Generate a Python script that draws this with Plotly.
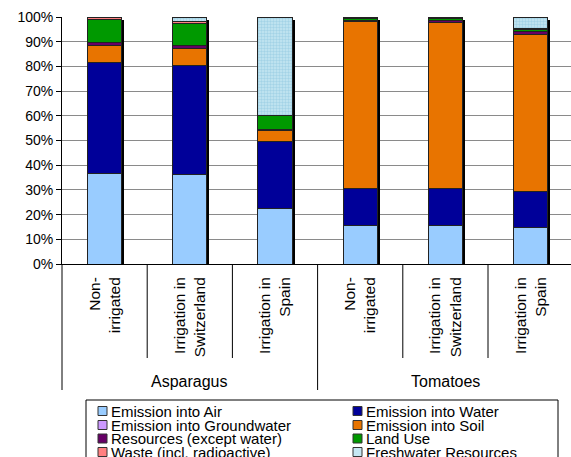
import plotly.graph_objects as go

# ---------------- data ----------------
groups = ["Asparagus", "Tomatoes"]
sub_labels = ["Non-<br>irrigated", "Irrigation in<br>Switzerland", "Irrigation in<br>Spain",
              "Non-<br>irrigated", "Irrigation in<br>Switzerland", "Irrigation in<br>Spain"]
group_of = [0, 0, 0, 1, 1, 1]
y_ticks = [0, 10, 20, 30, 40, 50, 60, 70, 80, 90, 100]
y_tick_labels = ["0%", "10%", "20%", "30%", "40%", "50%", "60%", "70%", "80%", "90%", "100%"]

series_names = ["Emission into Air", "Emission into Water", "Emission into Groundwater",
                "Emission into Soil", "Resources (except water)", "Land Use",
                "Waste (incl. radioactive)", "Freshwater Resources"]
air = [36.8, 36.4, 22.4, 15.7, 15.7, 14.9]
water = [44.7, 43.8, 27.3, 15.0, 14.8, 14.4]
groundwater = [0, 0, 0, 0, 0, 0]
soil = [7.1, 7.0, 4.2, 67.3, 67.1, 63.8]
resources = [1.2, 1.1, 0.6, 0.7, 0.8, 0.9]
land_use = [9.1, 9.0, 5.7, 0.8, 1.0, 1.1]
waste = [1.1, 0.8, 0.0, 0.5, 0.6, 0.3]
freshwater = [0, 1.9, 39.8, 0, 0, 4.6]
series_values = [air, water, groundwater, soil, resources, land_use, waste, freshwater]
colors = ["#99CCFF", "#000099", "#CC99FF", "#E87400", "#660066", "#009900", "#FF8080", "#C6E7F3"]

# ---------------- geometry ----------------
W, H = 571, 457
L, R, T, B = 62, 0, 17, 193
PW, PH = W - L - R, H - T - B
CAT_PX = 85.2
xr = [-0.5, -0.5 + PW / CAT_PX]
FONT = "Liberation Sans, Arial, sans-serif"

def px2x(px):
    return (px - L) / PW

def px2y(py):
    return (H - B - py) / PH

def data2px(xv):
    return L + (xv - xr[0]) / (xr[1] - xr[0]) * PW

xs = list(range(len(sub_labels)))

fig = go.Figure()

# shadow behind bars (base subplot)
totals = [sum(s[i] for s in series_values) for i in xs]
fig.add_trace(go.Bar(
    x=[x + 0.03 for x in xs], y=[t - 1.2 for t in totals], width=0.4,
    marker=dict(color="black", line=dict(width=0)),
    showlegend=False, hoverinfo="skip", xaxis="x", yaxis="y"))

for name, vals, col in zip(series_names, series_values, colors):
    marker = dict(color=col, line=dict(color="#222222", width=1))
    if name == "Freshwater Resources":
        marker["pattern"] = dict(shape=".", bgcolor=col, fgcolor="#A3D3E6",
                                 size=3, solidity=0.5, fillmode="replace")
    fig.add_trace(go.Bar(x=xs, y=vals, name=name, width=0.4, marker=marker,
                         xaxis="x2", yaxis="y", showlegend=False))

shapes = []
# category separators
for b in [k - 0.5 for k in range(len(xs) + 1)]:
    bx = px2x(data2px(b))
    long_line = (b == -0.5) or (b == 2.5) or (b == len(xs) - 0.5)
    y_end = 390 if long_line else 358
    shapes.append(dict(type="line", xref="paper", yref="paper", x0=bx, x1=bx,
                       y0=0, y1=px2y(y_end), line=dict(color="black", width=1)))

annotations = []
for gi, g in enumerate(groups):
    members = [x for x in xs if group_of[x] == gi]
    cx = px2x(data2px(sum(members) / len(members)))
    annotations.append(dict(text=g, x=cx, y=px2y(381), xref="paper", yref="paper",
                            showarrow=False, xanchor="center", yanchor="middle",
                            font=dict(family=FONT, size=16, color="black")))

# legend box
shapes.append(dict(type="rect", xref="paper", yref="paper",
                   x0=px2x(86), x1=px2x(558), y0=px2y(470), y1=px2y(400),
                   line=dict(color="black", width=1), fillcolor="white", layer="above"))
rows_y = [411, 425, 438.5, 452]
col_sq = [98, 353]
for k, (name, col) in enumerate(zip(series_names, colors)):
    r, c = k // 2, k % 2
    cy = rows_y[r]
    sx = col_sq[c]
    shapes.append(dict(type="rect", xref="paper", yref="paper",
                       x0=px2x(sx), x1=px2x(sx + 9), y0=px2y(cy + 4.5), y1=px2y(cy - 4.5),
                       line=dict(color="#333333", width=1), fillcolor=col, layer="above"))
    annotations.append(dict(text=name, x=px2x(sx + 11), y=px2y(cy), xref="paper", yref="paper",
                            showarrow=False, xanchor="left", yanchor="middle",
                            font=dict(family=FONT, size=15, color="black")))

fig.update_layout(
    width=W, height=H,
    margin=dict(l=L, r=R, t=T, b=B, autoexpand=False),
    barmode="stack",
    plot_bgcolor="white", paper_bgcolor="white",
    font=dict(family=FONT, color="black"),
    showlegend=False,
    xaxis=dict(range=xr, tickmode="array", tickvals=xs, ticktext=sub_labels,
               tickangle=-90, tickfont=dict(family=FONT, size=15.5, color="black"),
               ticks="", showgrid=False, zeroline=False,
               showline=True, linecolor="black", linewidth=1, ticklabelstandoff=6),
    xaxis2=dict(range=xr, overlaying="x", visible=False),
    yaxis=dict(range=[0, 100], tickmode="array", tickvals=y_ticks, ticktext=y_tick_labels,
               tickfont=dict(family=FONT, size=14, color="black"),
               ticks="outside", ticklen=5, tickcolor="black",
               showline=True, linecolor="black", linewidth=1,
               showgrid=True, gridcolor="#8a8a8a", gridwidth=1, zeroline=False),
    shapes=shapes, annotations=annotations,
)

fig.write_html("out.html", config={"displayModeBar": False},
               post_script="document.body.style.margin='0';document.body.style.overflow='hidden';")
